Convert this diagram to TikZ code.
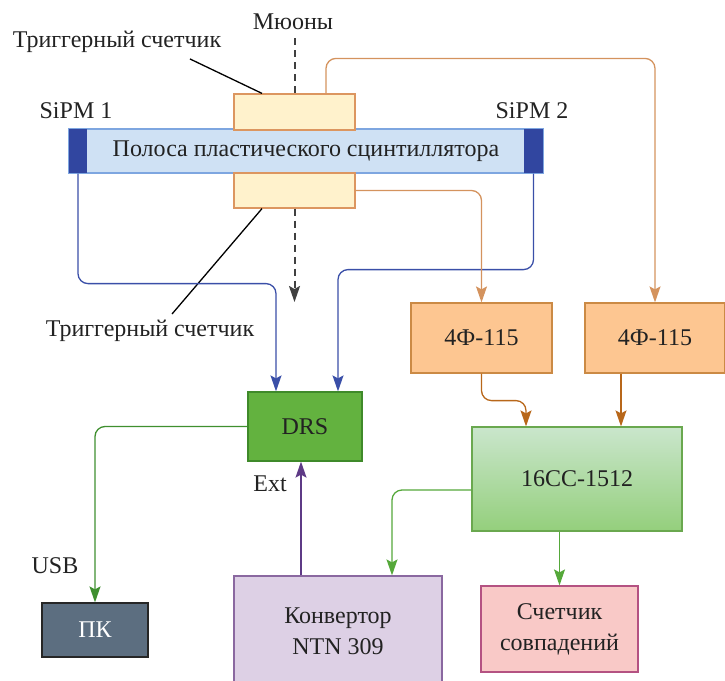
\documentclass[tikz,border=0pt]{standalone}
\usepackage{fontspec}
\setmainfont{Liberation Serif}
\usepackage{xcolor}
\usetikzlibrary{arrows.meta}
\definecolor{barfill}{HTML}{CFE1F4}
\definecolor{barline}{HTML}{7EA6E0}
\definecolor{capblue}{HTML}{3146A0}
\definecolor{trigfill}{HTML}{FFF2CC}
\definecolor{trigline}{HTML}{DC9660}
\definecolor{wireblue}{HTML}{3A4FA8}
\definecolor{wireorange}{HTML}{D4935E}
\definecolor{ampfill}{HTML}{FDC691}
\definecolor{ampline}{HTML}{CB8A45}
\definecolor{wirebrown}{HTML}{B8671A}
\definecolor{drsfill}{HTML}{63B23F}
\definecolor{drsline}{HTML}{3F8A2A}
\definecolor{cctop}{HTML}{CAE6CC}
\definecolor{ccbottom}{HTML}{94CF7C}
\definecolor{ccline}{HTML}{6AA84F}
\definecolor{wiregreen}{HTML}{3F8F2F}
\definecolor{wirelight}{HTML}{55A83A}
\definecolor{pcfill}{HTML}{5C6E80}
\definecolor{convfill}{HTML}{DDD0E5}
\definecolor{convline}{HTML}{8A68A0}
\definecolor{wirepurple}{HTML}{5E3A86}
\definecolor{coincfill}{HTML}{F9C9C7}
\definecolor{coincline}{HTML}{B45282}
\definecolor{ink}{HTML}{222222}
\tikzset{
    block/.style = {rectangle, inner sep=0pt, line width=1.2pt, align=center, text=ink},
    plain-label/.style = {inner sep=0pt, text=ink},
    wire/.style = {line width=1.3pt, rounded corners=10pt, -{Stealth[length=16pt,width=11pt,inset=3pt]}},
    muon-path/.style = {line width=2pt, dash pattern=on 7pt off 5pt, black!75},
}
\begin{document}
\begin{tikzpicture}[x=1pt,y=-1pt,font=\fontsize{24}{31}\selectfont]
\useasboundingbox (0,0) rectangle (725,680);
\node [block, draw=barline, fill=barfill, minimum width=474pt, minimum height=44pt] (bar) at (306,151) {Полоса пластического сцинтиллятора};
\node [block, fill=capblue, minimum width=18pt, minimum height=44pt] (sipm1) at (78,151) {};
\node [block, fill=capblue, minimum width=19pt, minimum height=44pt] (sipm2) at (533.5,151) {};
\node [block, draw=trigline, fill=trigfill, minimum width=121pt, minimum height=36pt] (trigtop) at (294.5,112) {};
\node [block, draw=trigline, fill=trigfill, minimum width=121pt, minimum height=35pt] (trigbot) at (294.5,190.5) {};
\node [plain-label] (muons) at (293,22) {Мюоны};
\node [plain-label] (toplabel) at (117,42) {Триггерный счетчик};
\node [plain-label] (botlabel) at (150,331) {Триггерный счетчик};
\node [plain-label] (sipm1label) at (76,111) {SiPM 1};
\node [plain-label] (sipm2label) at (532,111) {SiPM 2};
\node [block, draw=ampline, fill=ampfill, minimum width=141pt, minimum height=70pt] (amp1) at (481.5,338) {4Ф-115};
\node [block, draw=ampline, fill=ampfill, minimum width=140pt, minimum height=70pt] (amp2) at (655,338) {4Ф-115};
\node [block, draw=drsline, fill=drsfill, minimum width=114pt, minimum height=69pt] (drs) at (305,426.5) {DRS};
\node [block, draw=ccline, top color=cctop, bottom color=ccbottom, minimum width=210pt, minimum height=104pt] (cc) at (577,479) {16CC-1512};
\node [block, draw=black!85, fill=pcfill, text=white, minimum width=106pt, minimum height=54pt] (pc) at (95,630) {ПК};
\node [block, draw=convline, fill=convfill, minimum width=208pt, minimum height=110pt] (conv) at (338,631) {Конвертор\\NTN 309};
\node [block, draw=coincline, fill=coincfill, minimum width=157pt, minimum height=86pt] (coinc) at (559.5,629) {Счетчик\\совпадений};
\node [plain-label] (usb) at (55,566) {USB};
\node [plain-label] (ext) at (270,484) {Ext};
\coordinate (muonexit) at (294.5,302);

\draw [muon-path] (trigtop.north |- muons.south) ++(0,8) -- (trigtop.north);
\draw [muon-path, -{Stealth[length=16pt,width=11pt,inset=3pt]}] (trigbot.south) -- (muonexit);
\draw [line width=1.3pt] ([xshift=73pt,yshift=-6pt]toplabel.south) -- ([xshift=-32.5pt]trigtop.north);
\draw [line width=1.3pt] ([xshift=22pt,yshift=6pt]botlabel.north) -- ([xshift=-32.5pt]trigbot.south);
\draw [wire, wireblue] (sipm1.south) -- ++(0,110) -| ([xshift=-29pt]drs.north);
\draw [wire, wireblue] (sipm2.south) -- ++(0,96) -| ([xshift=33pt]drs.north);
\draw [wire, wireorange] ([xshift=31.5pt]trigtop.north) -- ++(0,-35) -| (amp2.north);
\draw [wire, wireorange] (trigbot.east) -| (amp1.north);
\draw [wire, wirebrown] (amp1.south) -- ++(0,27) -| ([xshift=-51pt]cc.north);
\draw [wire, wirebrown] ([xshift=-34pt]amp2.south) -- ([xshift=-34pt]amp2.south |- cc.north);
\draw [wire, wiregreen] (drs.west) -| (pc.north);
\draw [wire, wirepurple] ([xshift=-37pt]conv.north) -- ([xshift=-37pt]conv.north |- drs.south);
\draw [wire, wirelight] ([yshift=-11pt]cc.west) -| ([xshift=54pt]conv.north);
\draw [wire, wirelight] (coinc.north |- cc.south) -- (coinc.north);
\end{tikzpicture}
\end{document}
